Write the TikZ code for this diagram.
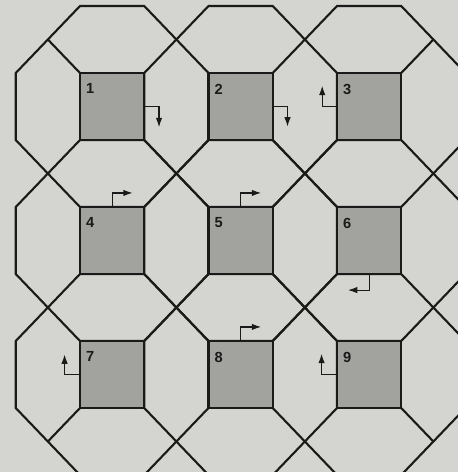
\documentclass[tikz,border=0pt]{standalone}
\usepackage{fontspec}
\setsansfont{Liberation Sans}
\usepackage{xcolor}
\usepackage{tikz}
\usetikzlibrary{arrows.meta}

\definecolor{paper}{RGB}{212,212,208}
\definecolor{cellgray}{RGB}{162,162,159}
\definecolor{ink}{RGB}{26,26,26}

\tikzset{
    octagon/.style={ink,line width=1.8pt,line join=miter},
    cell/.style={draw=ink,fill=cellgray,line width=2pt,minimum width=1.9275cm,
      minimum height=2.01cm,inner sep=0pt,outer sep=0pt},
    num/.style={anchor=north west,inner sep=0pt,text=ink,
      font=\fontsize{12.5}{14}\selectfont\sffamily\bfseries},
    movearrow/.style={ink,line width=1pt,-{Latex[length=8pt,width=5.5pt]}}
}

\begin{document}
\begin{tikzpicture}[x=1.9275cm,y=-2.01cm]
    \fill[paper] (-1.2451,-1.0896) rectangle (5.8833,5.9552);
    \useasboundingbox (-1.2451,-1.0896) rectangle (5.8833,5.9552);

    \foreach \i in {0,1,2}
      \foreach \j in {0,1,2}
        \draw[octagon] (2*\i,2*\j-1) -- (2*\i+1,2*\j-1) -- (2*\i+2,2*\j)
          -- (2*\i+2,2*\j+1) -- (2*\i+1,2*\j+2) -- (2*\i,2*\j+2)
          -- (2*\i-1,2*\j+1) -- (2*\i-1,2*\j) -- cycle;

    \foreach \k/\i/\j in {1/0/0,2/1/0,3/2/0,4/0/1,5/1/1,6/2/1,7/0/2,8/1/2,9/2/2}{
        \node[cell] (sq\k) at (2*\i+0.5,2*\j+0.5) {};
        \node[num] (n\k) at ([xshift=5pt,yshift=-9pt]sq\k.north west) {\k};
    }

    \draw[octagon] (sq1.north west) -- (-0.5,-0.5);
    \draw[octagon] (sq3.north east) -- (5.5,-0.5);
    \draw[octagon] (sq7.south west) -- (-0.5,5.5);
    \draw[octagon] (sq9.south east) -- (5.5,5.5);

    \draw[movearrow] (sq1.east) -- ++(0.23,0) -- ++(0,0.31);
    \draw[movearrow] (sq2.east) -- ++(0.23,0) -- ++(0,0.30);
    \draw[movearrow] (sq3.west) -- ++(-0.23,0) -- ++(0,-0.31);
    \draw[movearrow] (sq4.north) -- ++(0,-0.21) -- ++(0.32,0);
    \draw[movearrow] (sq5.north) -- ++(0,-0.21) -- ++(0.32,0);
    \draw[movearrow] (sq6.south) -- ++(0,0.24) -- ++(-0.33,0);
    \draw[movearrow] (sq7.west) -- ++(-0.24,0) -- ++(0,-0.30);
    \draw[movearrow] (sq8.north) -- ++(0,-0.21) -- ++(0.32,0);
    \draw[movearrow] (sq9.west) -- ++(-0.24,0) -- ++(0,-0.31);
\end{tikzpicture}
\end{document}
